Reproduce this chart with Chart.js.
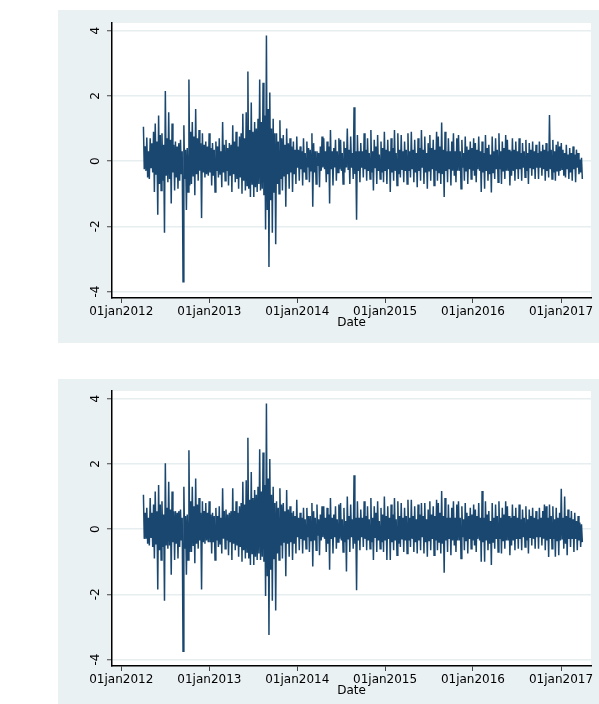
<!DOCTYPE html>
<html>
<head>
<meta charset="utf-8">
<script src="https://cdn.jsdelivr.net/npm/chart.js@4.4.1/dist/chart.umd.min.js"></script>
<style>
    body {
        margin: 0;
        width: 599px;
        height: 704px;
        background: #fff;
        position: relative;
        overflow: hidden;
    }
    .panel {
        position: absolute;
        left: 58px;
        width: 541px;
        background: #eaf1f3;
    }
    #panelTop { top: 10px; height: 333px; }
    #panelBottom { top: 379px; height: 325px; }
    canvas { display: block; }
</style>
</head>
<body>
<div class="panel" id="panelTop"><canvas id="chartTop" width="541" height="333"></canvas></div>
<div class="panel" id="panelBottom"><canvas id="chartBottom" width="541" height="325"></canvas></div>

<script>
// days counted from 01jan2012; two readings per week starting 02apr2012
const firstDay = 92;
const stepDays = 3.5;

const yearDays = [0, 366, 731, 1096, 1461, 1827];
const yearLabels = ['01jan2012', '01jan2013', '01jan2014', '01jan2015', '01jan2016', '01jan2017'];
const yTicks = [-4, -2, 0, 2, 4];

// upper panel (one row per quarter)
const seriesTop = [
    1.05,-0.25, 0.45,-0.30, 0.72,-0.50, 0.30,-0.55, 0.70,-0.20, 0.55,-0.35, 0.90,-0.95, 1.15,-0.40, 0.60,-1.65, 1.40,-0.70, 0.80,-0.90, 0.85,-0.60, 0.50,-2.20,
    2.15,-0.45, 0.70,-0.65, 1.50,-0.55, 0.65,-1.30, 1.15,-0.35, 0.50,-0.90, 0.60,-0.50, 0.45,-0.85, 0.55,-0.60, 0.65,-0.40, 0.30,-3.70, 1.10,-0.55, 0.35,-1.50,
    0.40,-0.95, 2.50,-0.75, 0.90,-0.70, 1.20,-0.45, 0.75,-1.05, 1.60,-0.40, 0.70,-0.60, 0.95,-0.30, 0.55,-1.75, 0.85,-0.35, 0.50,-0.50, 0.60,-0.40, 0.45,-0.45,
    0.85,-0.35, 0.40,-0.75, 0.55,-0.45, 0.35,-0.95, 0.60,-0.30, 0.45,-0.50, 0.70,-0.40, 0.30,-0.80, 1.20,-0.35, 0.50,-0.60, 0.65,-0.30, 0.40,-0.75, 0.55,-0.45,
    0.50,-0.95, 1.10,-0.40, 0.60,-0.65, 0.90,-0.55, 0.45,-0.85, 0.75,-0.50, 0.85,-1.00, 1.45,-0.60, 0.70,-0.90, 1.50,-0.75, 2.75,-0.85, 0.95,-1.10, 1.80,-0.70,
    0.90,-1.10, 1.20,-0.80, 1.00,-0.95, 1.30,-0.70, 2.50,-0.90, 1.20,-0.85, 2.40,-1.05, 1.40,-2.10, 3.85,-1.50, 1.60,-3.25, 2.10,-1.20, 1.00,-2.20, 1.30,-0.95,
    0.85,-2.55, 0.85,-0.70, 0.60,-1.00, 1.25,-0.55, 0.70,-0.90, 0.80,-0.45, 0.50,-1.40, 1.00,-0.40, 0.55,-0.85, 0.70,-0.35, 0.45,-0.95, 0.60,-0.40, 0.35,-0.70,
    0.75,-0.20, 0.35,-0.60, 0.45,-0.25, 0.30,-0.75, 0.70,-0.35, 0.25,-0.55, 0.60,-0.20, 0.40,-0.65, 0.35,-0.30, 0.85,-1.40, 0.55,-0.35, 0.30,-0.70, 0.30,-0.15,
    0.25,-0.80, 0.45,-0.30, 0.75,-0.20, 0.70,-0.25, 0.30,-0.65, 0.60,-0.40, 0.45,-1.30, 0.95,-0.25, 0.30,-0.75, 0.40,-0.20, 0.65,-0.60, 0.30,-0.35, 0.70,-0.25,
    0.65,-0.30, 0.25,-0.70, 0.60,-0.35, 0.40,-0.20, 1.00,-0.25, 0.35,-0.70, 0.75,-0.20, 0.25,-0.55, 1.65,-0.40, 0.30,-1.80, 0.80,-0.30, 0.30,-0.65, 0.55,-0.20,
    0.30,-0.50, 0.85,-0.25, 0.35,-0.60, 0.70,-0.30, 0.25,-0.55, 0.95,-0.35, 0.30,-0.90, 0.65,-0.20, 0.45,-0.70, 0.80,-0.30, 0.20,-0.55, 0.60,-0.35, 0.40,-0.65,
    0.90,-0.30, 0.35,-0.70, 0.65,-0.25, 0.30,-0.95, 0.70,-0.35, 0.40,-0.60, 0.95,-0.30, 0.25,-0.75, 0.85,-0.40, 0.35,-0.50, 0.80,-0.25, 0.30,-0.65, 0.60,-0.30,
    0.35,-0.70, 0.85,-0.30, 0.30,-0.50, 0.90,-0.25, 0.35,-0.65, 0.65,-0.35, 0.25,-0.80, 0.70,-0.30, 0.40,-0.60, 0.95,-0.20, 0.35,-0.70, 0.75,-0.35, 0.25,-0.85,
    0.55,-0.30, 0.80,-0.60, 0.40,-0.25, 0.65,-0.75, 0.35,-0.30, 0.90,-0.60, 0.75,-0.35, 0.45,-0.70, 1.18,-0.40, 0.35,-1.10, 0.90,-0.30, 0.30,-0.65, 0.70,-0.25,
    0.30,-0.75, 0.60,-0.30, 0.85,-0.45, 0.30,-0.65, 0.70,-0.30, 0.80,-0.30, 0.30,-0.85, 0.65,-0.20, 0.25,-0.60, 0.75,-0.30, 0.45,-0.70, 0.35,-0.25, 0.60,-0.55,
    0.40,-0.30, 0.70,-0.45, 0.55,-0.65, 0.35,-0.25, 0.75,-0.30, 0.30,-0.95, 0.60,-0.35, 0.25,-0.85, 0.80,-0.30, 0.40,-0.60, 0.50,-0.40, 0.20,-0.96, 0.75,-0.35,
    0.30,-0.55, 0.70,-0.25, 0.35,-0.65, 0.85,-0.25, 0.30,-0.70, 0.60,-0.30, 0.40,-0.55, 0.80,-0.30, 0.65,-0.30, 0.35,-0.75, 0.30,-0.45, 0.70,-0.30, 0.35,-0.60,
    0.60,-0.25, 0.30,-0.55, 0.70,-0.25, 0.25,-0.60, 0.55,-0.20, 0.30,-0.50, 0.65,-0.30, 0.25,-0.70, 0.55,-0.20, 0.35,-0.45, 0.60,-0.25, 0.30,-0.55, 0.50,-0.20,
    0.25,-0.55, 0.60,-0.20, 0.30,-0.45, 0.50,-0.25, 0.35,-0.60, 0.55,-0.30, 0.30,-0.50, 1.41,-0.25, 0.35,-0.55, 0.65,-0.35, 0.30,-0.60, 0.50,-0.30, 0.60,-0.45,
    0.45,-0.30, 0.55,-0.25, 0.35,-0.45, 0.25,-0.50, 0.50,-0.25, 0.20,-0.55, 0.40,-0.35, 0.25,-0.60, 0.45,-0.25, 0.20,-0.65, 0.35,-0.20, 0.25,-0.40, 0.05,-0.35, 0.10,-0.55
];

// lower panel (one row per quarter)
const seriesBottom = [
    1.05,-0.30, 0.50,-0.30, 0.65,-0.45, 0.35,-0.50, 0.95,-0.25, 0.50,-0.55, 0.75,-0.90, 1.15,-0.45, 0.55,-1.85, 1.35,-0.65, 0.75,-0.95, 0.85,-0.55, 0.45,-2.20,
    2.02,-0.50, 0.65,-0.60, 1.45,-0.50, 0.60,-1.40, 1.15,-0.40, 0.55,-0.95, 0.55,-0.45, 0.50,-0.90, 0.55,-0.55, 0.60,-0.35, 0.35,-3.75, 1.30,-0.60, 0.40,-1.40,
    0.45,-0.95, 2.42,-0.70, 0.85,-0.70, 1.30,-0.50, 0.70,-1.05, 1.55,-0.45, 0.75,-0.60, 0.95,-0.35, 0.50,-1.85, 0.85,-0.40, 0.55,-0.45, 0.80,-0.35, 0.50,-0.40,
    0.85,-0.40, 0.45,-0.75, 0.50,-0.40, 0.40,-0.95, 0.65,-0.35, 0.40,-0.55, 0.70,-0.45, 0.35,-0.75, 1.25,-0.30, 0.55,-0.60, 0.60,-0.35, 0.45,-0.80, 0.50,-0.40,
    0.55,-0.95, 1.25,-0.45, 0.55,-0.65, 0.85,-0.50, 0.50,-0.85, 0.70,-0.55, 0.80,-1.00, 1.45,-0.65, 0.75,-0.90, 1.50,-0.70, 2.80,-0.90, 0.90,-1.10, 1.75,-0.75,
    0.95,-1.10, 1.20,-0.85, 1.05,-0.95, 1.30,-0.75, 2.45,-0.95, 1.15,-0.85, 2.35,-1.00, 1.35,-2.05, 3.85,-1.45, 1.55,-3.25, 2.15,-1.25, 1.05,-2.20, 1.30,-0.90,
    0.80,-2.50, 0.85,-0.75, 0.65,-0.95, 1.25,-0.50, 0.75,-0.90, 0.80,-0.40, 0.55,-1.45, 1.20,-0.45, 0.60,-0.85, 0.70,-0.40, 0.50,-0.95, 0.55,-0.45, 0.40,-0.75,
    0.90,-0.25, 0.35,-0.65, 0.50,-0.30, 0.35,-0.75, 0.65,-0.35, 0.30,-0.60, 0.65,-0.25, 0.40,-0.70, 0.40,-0.35, 0.80,-1.15, 0.55,-0.35, 0.35,-0.65, 0.75,-0.20,
    0.30,-0.80, 0.45,-0.35, 0.70,-0.25, 0.70,-0.30, 0.35,-0.70, 0.65,-0.45, 0.45,-1.25, 0.95,-0.30, 0.35,-0.75, 0.45,-0.25, 0.70,-0.60, 0.30,-0.40, 0.75,-0.30,
    0.80,-0.35, 0.30,-0.70, 0.65,-0.40, 0.25,-1.30, 1.00,-0.30, 0.40,-0.70, 0.75,-0.25, 0.30,-0.60, 1.65,-0.45, 0.35,-1.88, 0.85,-0.35, 0.35,-0.65, 0.60,-0.25,
    0.35,-0.55, 0.85,-0.30, 0.40,-0.65, 0.70,-0.35, 0.30,-0.60, 0.95,-0.40, 0.35,-0.95, 0.70,-0.25, 0.50,-0.70, 0.85,-0.35, 0.25,-0.60, 0.65,-0.40, 0.45,-0.70,
    1.00,-0.35, 0.40,-0.95, 0.70,-0.30, 0.35,-0.95, 0.75,-0.40, 0.45,-0.65, 0.95,-0.35, 0.30,-0.80, 0.85,-0.45, 0.40,-0.55, 0.80,-0.30, 0.35,-0.70, 0.65,-0.35,
    0.40,-0.75, 0.90,-0.35, 0.35,-0.55, 0.90,-0.30, 0.40,-0.70, 0.70,-0.40, 0.30,-0.75, 0.75,-0.35, 0.45,-0.65, 0.80,-0.25, 0.40,-0.75, 0.80,-0.40, 0.30,-0.85,
    0.60,-0.35, 0.85,-0.65, 0.45,-0.30, 0.70,-0.80, 0.40,-0.35, 0.90,-0.65, 0.80,-0.40, 0.50,-0.75, 1.17,-0.45, 0.40,-1.34, 0.95,-0.35, 0.35,-0.70, 0.75,-0.30,
    0.35,-0.80, 0.65,-0.35, 0.85,-0.50, 0.35,-0.70, 0.75,-0.35, 0.85,-0.35, 0.35,-0.90, 0.70,-0.25, 0.30,-0.65, 0.80,-0.35, 0.50,-0.75, 0.40,-0.30, 0.65,-0.60,
    0.45,-0.35, 0.75,-0.50, 0.60,-0.70, 0.40,-0.30, 0.80,-0.35, 0.35,-1.00, 1.17,-0.40, 0.35,-1.00, 0.85,-0.35, 0.45,-0.65, 0.55,-0.45, 0.25,-1.10, 0.80,-0.40,
    0.35,-0.60, 0.75,-0.30, 0.40,-0.70, 0.85,-0.30, 0.35,-0.75, 0.65,-0.35, 0.45,-0.60, 0.85,-0.35, 0.70,-0.35, 0.40,-0.80, 0.35,-0.50, 0.75,-0.35, 0.40,-0.65,
    0.65,-0.30, 0.35,-0.60, 0.75,-0.30, 0.30,-0.65, 0.60,-0.25, 0.35,-0.55, 0.70,-0.35, 0.30,-0.75, 0.60,-0.25, 0.40,-0.50, 0.65,-0.30, 0.35,-0.60, 0.55,-0.25,
    0.30,-0.60, 0.65,-0.25, 0.35,-0.50, 0.55,-0.30, 0.75,-0.65, 0.70,-0.35, 0.35,-0.86, 0.75,-0.30, 0.40,-0.60, 0.70,-0.30, 0.30,-0.85, 0.65,-0.35, 0.35,-0.80,
    0.50,-0.35, 1.24,-0.30, 0.35,-0.60, 1.00,-0.45, 0.40,-0.80, 0.60,-0.30, 0.35,-0.55, 0.55,-0.30, 0.30,-0.70, 0.50,-0.30, 0.25,-0.65, 0.40,-0.35, 0.20,-0.55, 0.15,-0.40
];

const obsDays = seriesTop.map((_, i) => firstDay + stepDays * i);

const plotBackground = {
    id: 'plotBackground',
    beforeDraw(chart) {
        const { ctx, chartArea } = chart;
        ctx.save();
        ctx.fillStyle = '#ffffff';
        ctx.fillRect(chartArea.left, chartArea.top, chartArea.width, chartArea.height);
        ctx.restore();
    }
};

// y tick labels read bottom-to-top, as in the original
const rotatedYLabels = {
    id: 'rotatedYLabels',
    afterDraw(chart) {
        const { ctx } = chart;
        const y = chart.scales.y;
        ctx.save();
        ctx.font = '12px "DejaVu Sans", sans-serif';
        ctx.fillStyle = '#000';
        ctx.textAlign = 'center';
        ctx.textBaseline = 'middle';
        y.ticks.forEach(t => {
            ctx.save();
            ctx.translate(y.right - 16, y.getPixelForValue(t.value));
            ctx.rotate(-Math.PI / 2);
            ctx.fillText(String(t.value), 0, 0);
            ctx.restore();
        });
        ctx.restore();
    }
};

function makeChart(canvasId, values, padTop, padBottom) {
    const ctx = document.getElementById(canvasId).getContext('2d');
    const font = { family: '"DejaVu Sans", sans-serif', size: 12 };

    return new Chart(ctx, {
        type: 'line',
        data: {
            datasets: [{
                data: values.map((v, i) => ({ x: obsDays[i], y: v })),
                borderColor: '#1a476f',
                borderWidth: 1.5,
                pointRadius: 0,
                tension: 0,
                fill: false
            }]
        },
        options: {
            responsive: false,
            animation: false,
            layout: { padding: { top: padTop, right: 8, bottom: padBottom, left: 0 } },
            plugins: {
                legend: { display: false },
                tooltip: { enabled: false }
            },
            scales: {
                x: {
                    type: 'linear',
                    min: -38.6,
                    max: 1951.5,
                    afterBuildTicks: scale => {
                        scale.ticks = yearDays.map(v => ({ value: v }));
                    },
                    afterFit: scale => { scale.height = 32; },
                    ticks: {
                        autoSkip: false,
                        maxRotation: 0,
                        padding: 2,
                        color: '#000',
                        font: font,
                        callback: v => yearLabels[yearDays.indexOf(v)]
                    },
                    grid: {
                        drawOnChartArea: false,
                        tickLength: 5,
                        tickWidth: 1,
                        tickColor: '#444'
                    },
                    border: { color: '#000', width: 1.5 },
                    title: {
                        display: true,
                        text: 'Date',
                        color: '#000',
                        font: font,
                        padding: { top: 0, bottom: 0 }
                    }
                },
                y: {
                    min: -4.2,
                    max: 4.235,
                    afterBuildTicks: scale => {
                        scale.ticks = yTicks.map(v => ({ value: v }));
                    },
                    afterFit: scale => { scale.width = 54; },
                    ticks: { display: false },
                    grid: {
                        color: '#e6eef0',
                        lineWidth: 1.5,
                        tickLength: 5,
                        tickWidth: 1,
                        tickColor: '#444'
                    },
                    border: { color: '#000', width: 1.5 }
                }
            }
        },
        plugins: [plotBackground, rotatedYLabels]
    });
}

makeChart('chartTop', seriesTop, 13, 13);
makeChart('chartBottom', seriesBottom, 12, 6);
</script>
</body>
</html>
